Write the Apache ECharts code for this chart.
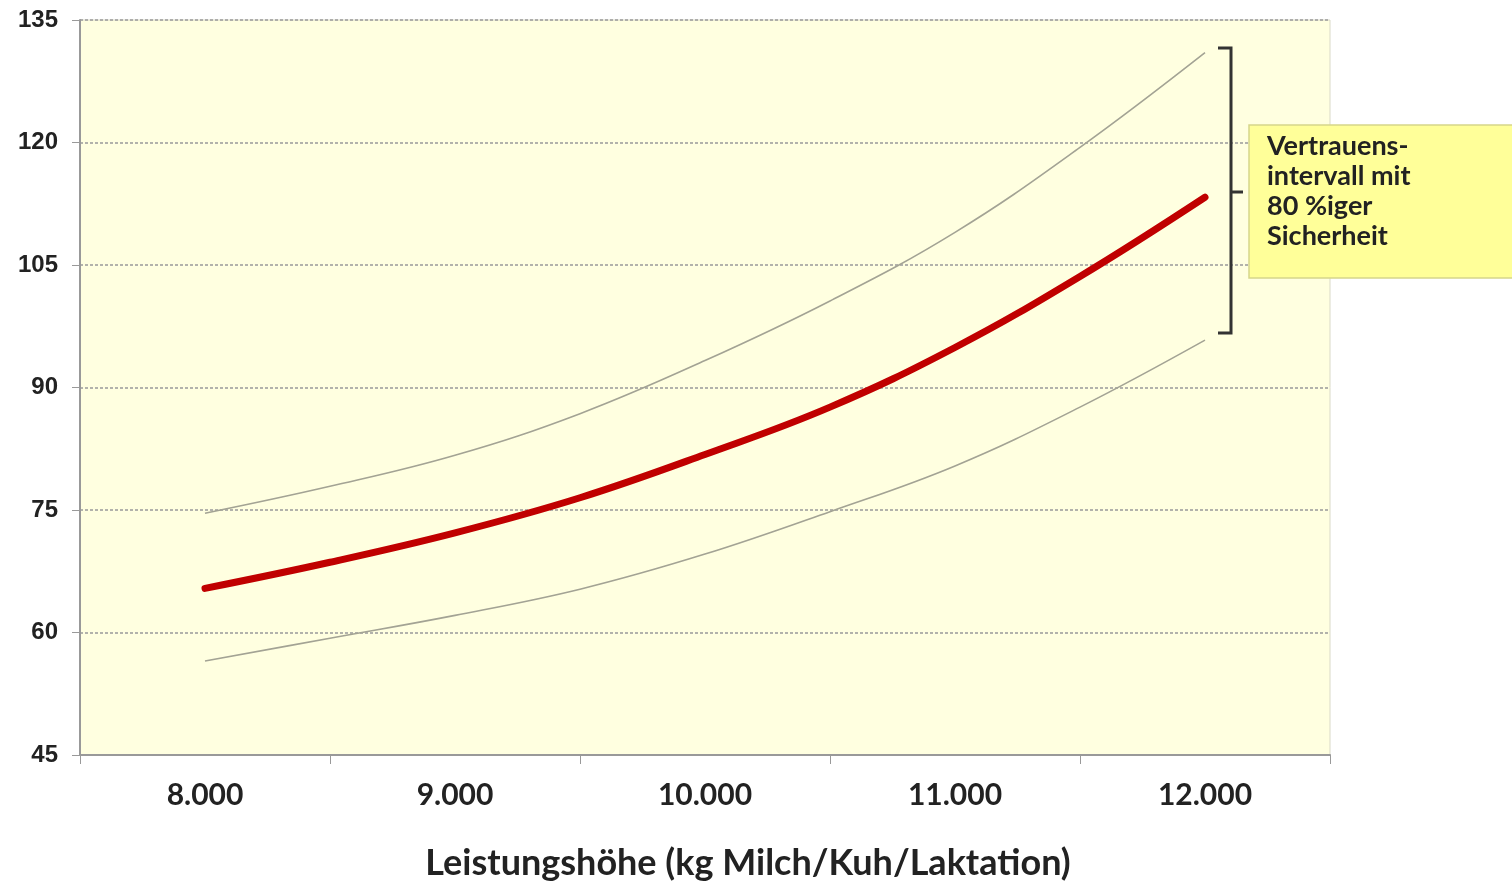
<!DOCTYPE html>
<html>
<head>
<meta charset="utf-8">
<script src="https://cdn.jsdelivr.net/npm/echarts@6/dist/echarts.min.js"></script>
<style>
  html, body { margin: 0; padding: 0; background: #fff; }
  #chart-container { width: 1512px; height: 882px; }
</style>
</head>
<body>
<div id="chart-container"></div>
<script>
// Leistungshöhe in kg Milch
var milkYield = [8000, 8500, 9000, 9500, 10000, 10500, 11000, 11500, 12000];
var meanLine = [65.4, 68.6, 72.2, 76.5, 81.8, 87.6, 94.9, 103.6, 113.3];
var upperLine = [74.6, 77.9, 81.7, 86.8, 93.3, 100.6, 109.0, 119.4, 131.0];
var lowerLine = [56.5, 59.3, 62.1, 65.3, 69.6, 74.8, 80.4, 87.6, 95.8];
var xLabelValues = [8000, 9000, 10000, 11000, 12000];
var xTickValues = [7500, 8500, 9500, 10500, 11500, 12500];
var xTitle = 'Leistungshöhe (kg Milch/Kuh/Laktation)';
var noteLines = ['Vertrauens-', 'intervall mit', '80 %iger', 'Sicherheit'];

function pairs(ys) {
  return milkYield.map(function (x, i) { return [x, ys[i]]; });
}

var dom = document.getElementById('chart-container');
var myChart = echarts.init(dom, null, { renderer: 'canvas' });

var option = {
  animation: false,
  backgroundColor: '#ffffff',
  grid: {
    left: 80,
    right: 182,
    top: 20,
    bottom: 127,
    outerBoundsMode: 'none',
    containLabel: false,
    show: true,
    backgroundColor: '#FFFFE0',
    borderColor: '#d9d9c8',
    borderWidth: 1
  },
  xAxis: {
    type: 'value',
    min: 7500,
    max: 12500,
    name: xTitle,
    nameLocation: 'middle',
    nameGap: 90,
    nameTextStyle: {
      fontFamily: 'Lato',
      fontWeight: 'bold',
      fontSize: 36,
      color: '#222',
      padding: [0, 0, 0, 86]
    },
    axisLine: { show: true, lineStyle: { color: '#999', width: 2 } },
    axisTick: {
      show: true,
      customValues: xTickValues,
      length: 9,
      lineStyle: { color: '#999', width: 1 }
    },
    axisLabel: {
      customValues: xLabelValues,
      margin: 25,
      fontFamily: 'Lato',
      fontWeight: 'bold',
      fontSize: 30,
      color: '#222',
      formatter: function (v) { return (v / 1000).toFixed(3); }
    },
    splitLine: { show: false }
  },
  yAxis: {
    type: 'value',
    min: 45,
    max: 135,
    interval: 15,
    axisLine: { show: true, lineStyle: { color: '#999', width: 2 } },
    axisTick: { show: true, length: 8, lineStyle: { color: '#999' } },
    axisLabel: {
      margin: 22,
      fontFamily: 'Liberation Sans',
      fontWeight: 'bold',
      fontSize: 24,
      color: '#222'
    },
    splitLine: {
      show: true,
      lineStyle: { color: '#999', type: [3, 2], width: 1.5 }
    }
  },
  series: [
    {
      name: 'obere Grenze',
      type: 'line',
      smooth: 0.4,
      symbol: 'none',
      data: pairs(upperLine),
      lineStyle: { color: '#a3a394', width: 1.6 }
    },
    {
      name: 'untere Grenze',
      type: 'line',
      smooth: 0.4,
      symbol: 'none',
      data: pairs(lowerLine),
      lineStyle: { color: '#a3a394', width: 1.6 }
    },
    {
      name: 'Mittelwert',
      type: 'line',
      smooth: 0.4,
      symbol: 'none',
      data: pairs(meanLine),
      lineStyle: { color: '#C00000', width: 7, cap: 'round' },
      z: 5
    }
  ],
  graphic: [
    {
      type: 'polyline',
      shape: { points: [[1218, 48], [1231, 48], [1231, 333], [1218, 333]] },
      style: { stroke: '#333', lineWidth: 3, fill: null },
      z: 10
    },
    {
      type: 'line',
      shape: { x1: 1231, y1: 192, x2: 1243, y2: 192 },
      style: { stroke: '#333', lineWidth: 3 },
      z: 10
    },
    {
      type: 'rect',
      shape: { x: 1249, y: 125, width: 270, height: 153 },
      style: { fill: '#FFFF99', stroke: '#d6d68a', lineWidth: 1.5 },
      z: 10
    },
    {
      type: 'text',
      left: 1267,
      top: 131,
      style: {
        text: noteLines.join('\n'),
        fontFamily: 'Lato',
        fontWeight: 'bold',
        fontSize: 27,
        lineHeight: 30,
        fill: '#222'
      },
      z: 11
    }
  ]
};

myChart.setOption(option);
window.addEventListener('resize', myChart.resize);
</script>
</body>
</html>
